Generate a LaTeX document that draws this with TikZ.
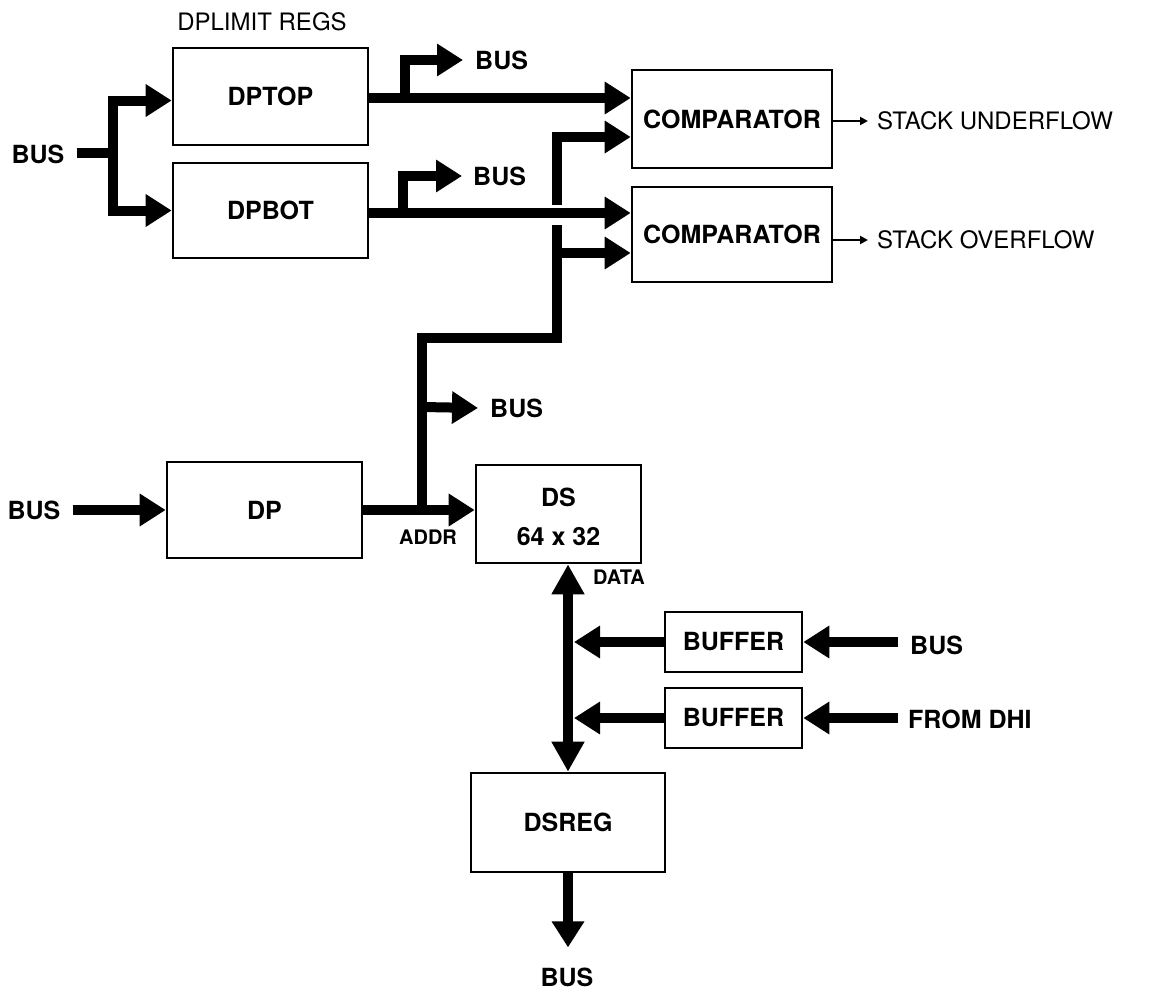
\documentclass[tikz,border=0pt]{standalone}
\usepackage{fontspec}
\setmainfont{TeX Gyre Heros}
\usetikzlibrary{arrows.meta}
\begin{document}
\begin{tikzpicture}[x=1pt,y=-1pt,
  box/.style={draw, line width=2.6pt, minimum width=#1, inner sep=0pt},
  lbl/.style={inner sep=0pt, font=\fontsize{25}{30}\selectfont\bfseries},
  rlbl/.style={inner sep=0pt, font=\fontsize{24}{29}\selectfont},
  slbl/.style={inner sep=0pt, font=\fontsize{20}{24}\selectfont\bfseries},
  bus/.style={line width=10pt, line join=miter},
  busarrow/.style={bus, -{Triangle[length=26pt,width=31pt]}},
  dbl/.style={bus, {Triangle[length=30pt,width=31pt]}-{Triangle[length=30pt,width=31pt]}},
  thin/.style={line width=2pt, -{Triangle[length=8pt,width=8pt]}}]
\useasboundingbox (0,0) rectangle (1159,993);

% boxes
\node[box=195pt, minimum height=97pt, lbl] (dptop) at (270.5,96.5) {DPTOP};
\node[box=195pt, minimum height=95pt, lbl] (dpbot) at (270.5,210.5) {DPBOT};
\node[box=200pt, minimum height=98pt, lbl] (comp1) at (732,119) {COMPARATOR};
\node[box=200pt, minimum height=95pt, lbl] (comp2) at (732,234.5) {COMPARATOR};
\node[box=195pt, minimum height=96pt, lbl] (dp) at (264.5,510) {DP};
\node[box=165pt, minimum height=98pt] (ds) at (558.5,514) {};
\node[lbl] (dst) at (558.5,497) {DS};
\node[lbl] (dsn) at (558.5,537) {64 x 32};
\node[box=137pt, minimum height=60pt, lbl] (buf1) at (733.5,642) {BUFFER};
\node[box=137pt, minimum height=60pt, lbl] (buf2) at (733.5,718) {BUFFER};
\node[box=194pt, minimum height=99pt, lbl] (dsreg) at (568,822.5) {DSREG};

% labels
\node[rlbl] (dplim) at (262,22) {DPLIMIT REGS};
\node[lbl] (busL1) at (38,154) {BUS};
\node[lbl, anchor=west] (busT1) at (475,60) {BUS};
\node[lbl, anchor=west] (busT2) at (473,176) {BUS};
\node[lbl, anchor=west] (busM) at (490,408) {BUS};
\node[lbl] (busL2) at (34,510) {BUS};
\node[lbl, anchor=west] (busR) at (910,645) {BUS};
\node[lbl, anchor=west] (dhi) at (908,719) {FROM DHI};
\node[lbl] (busB) at (567,977) {BUS};
\node[rlbl, anchor=west] (under) at (877,121) {STACK UNDERFLOW};
\node[rlbl, anchor=west] (over) at (877,240) {STACK OVERFLOW};
\node[slbl] (addr) at (428,537) {ADDR};
\node[slbl] (data) at (619,577) {DATA};

% junction coordinates
\coordinate (j1) at (113,153);
\coordinate (b1) at (405,98);
\coordinate (b2) at (403,213);
\coordinate (jdp) at (422,510);
\coordinate (jm) at (422,407);
\coordinate (v) at (557,338);
\coordinate (gtop) at (557,205);
\coordinate (gbot) at (557,225);
\coordinate (c2b) at (557,253);
\coordinate (vx) at (574,0);

% bus in to DPTOP / DPBOT
\draw[bus] ([xshift=12pt]busL1.east |- j1) -- (j1);
\draw[busarrow] (j1) |- ([yshift=-4pt]dptop.west);
\draw[busarrow] (j1) |- (dpbot.west);

% DPTOP -> comparator 1, with branch to BUS
\draw[busarrow] (dptop.east |- b1) -- (comp1.west |- b1);
\draw[busarrow] (b1) |- ([xshift=-12pt]busT1.west);

% DPBOT -> comparator 2, with branch to BUS
\draw[busarrow] (dpbot.east |- b2) -- (comp2.west |- b2);
\draw[busarrow] (b2) |- ([xshift=-11pt]busT2.west);

% DP address bus up to comparators
\draw[bus] (jdp) |- (v) -- (gbot);
\draw[busarrow] (c2b) -- (comp2.west |- c2b);
\draw[busarrow] (gtop) |- (comp1.west |- 0,137);
\draw[busarrow] (jm) -- ([xshift=-12pt]busM.west);

% BUS -> DP -> DS
\draw[busarrow] ([xshift=12pt]busL2.east) -- (dp.west);
\draw[busarrow] (dp.east) -- (dp.east -| ds.west);

% comparator outputs
\draw[thin] (comp1.east |- under) -- ([xshift=-9pt]under.west);
\draw[thin] (comp2.east |- over) -- ([xshift=-9pt]over.west);

% data bus
\draw[dbl] (dsreg.north |- ds.south) -- (dsreg.north);
\draw[busarrow] (buf1.west) -- (buf1.west -| vx);
\draw[busarrow] (buf2.west) -- (buf2.west -| vx);
\draw[busarrow] ([xshift=-12pt]busR.west |- buf1.east) -- (buf1.east);
\draw[busarrow] ([xshift=-10pt]dhi.west |- buf2.east) -- (buf2.east);

% DSREG -> BUS
\draw[busarrow] (dsreg.south) -- ([yshift=20pt]busB.north -| dsreg.south);
\end{tikzpicture}
\end{document}
